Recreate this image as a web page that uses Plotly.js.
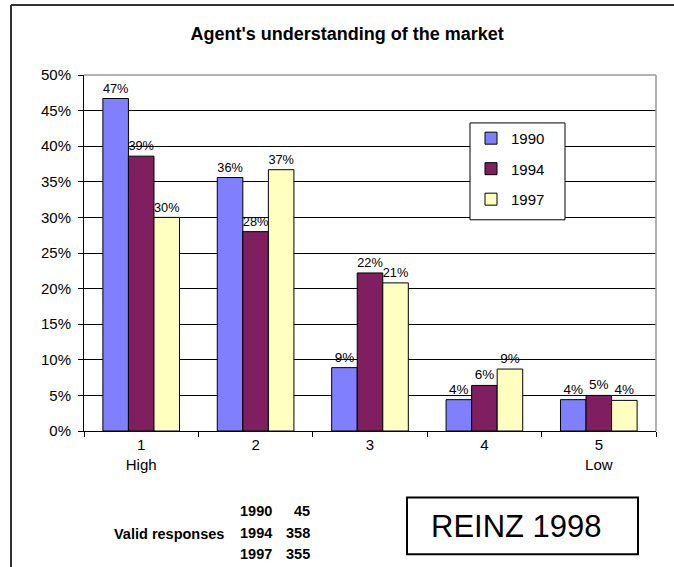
<!DOCTYPE html>
<html>
<head>
<meta charset="utf-8">
<script src="https://cdn.plot.ly/plotly-3.0.1.min.js"></script>
<style>html,body{margin:0;padding:0;background:#fff;}#chart{width:674px;height:567px;}</style>
</head>
<body>
<div id="chart"></div>
<script>
const categories = ['1', '2', '3', '4', '5'];
const tickLabels = ['1<br>High', '2', '3', '4', '5<br>Low'];
const seriesNames = ['1990', '1994', '1997'];
const values1990 = [46.7, 35.6, 8.9, 4.4, 4.4];
const values1994 = [38.6, 28.0, 22.2, 6.4, 5.0];
const values1997 = [30.0, 36.7, 20.8, 8.7, 4.3];
const validYears = ['1990', '1994', '1997'];
const validCounts = [45, 358, 355];

const colors = ['#8080FF', '#7F1F5F', '#FFFFC0'];
const FONT = 'Arial, "Liberation Sans", sans-serif';

const allValues = [values1990, values1994, values1997];
const traces = allValues.map((vals, i) => ({
  type: 'bar',
  name: seriesNames[i],
  x: categories,
  y: vals,
  marker: {color: colors[i], line: {color: '#000', width: 1}},
  texttemplate: '%{y:.0f}%',
  textposition: 'outside',
  textfont: {family: FONT, size: 13.5, color: '#000'},
  cliponaxis: false,
  legendgroup: 'g' + i,
  hoverinfo: 'skip'
}));

// pixel helpers for paper coords (plot area: x 84..656, y 75..431.5)
const L = 84, R = 656, T = 75, B = 431.5;
const px = v => (v - L) / (R - L);
const py = v => (B - v) / (B - T);

const annotations = [
  {text: '<b>Valid responses</b>', xref: 'paper', yref: 'paper', x: px(226), y: py(535),
   xanchor: 'right', yanchor: 'middle', showarrow: false, font: {family: FONT, size: 14.5, color: '#000'}},
  {text: 'REINZ 1998', xref: 'paper', yref: 'paper', x: px(516.5), y: py(527),
   xanchor: 'center', yanchor: 'middle', showarrow: false, font: {family: FONT, size: 31, color: '#000'}}
];
const rowY = [512, 534, 555];
validYears.forEach((yr, i) => {
  annotations.push({text: '<b>' + yr + '</b>', xref: 'paper', yref: 'paper', x: px(274), y: py(rowY[i]),
    xanchor: 'right', yanchor: 'middle', showarrow: false, font: {family: FONT, size: 14.5, color: '#000'}});
  annotations.push({text: '<b>' + validCounts[i] + '</b>', xref: 'paper', yref: 'paper', x: px(312), y: py(rowY[i]),
    xanchor: 'right', yanchor: 'middle', showarrow: false, font: {family: FONT, size: 14.5, color: '#000'}});
});

const shapes = [
  // outer frame (top and left visible)
  {type: 'line', xref: 'paper', yref: 'paper', x0: px(11), x1: px(690), y0: py(5), y1: py(5), line: {color: '#333', width: 2}},
  {type: 'line', xref: 'paper', yref: 'paper', x0: px(11), x1: px(11), y0: py(5), y1: py(590), line: {color: '#333', width: 2}},
  // plot area border top/right gray
  {type: 'line', xref: 'paper', yref: 'paper', x0: 0, x1: 1, y0: 1, y1: 1, line: {color: '#999', width: 1.5}, layer: 'above'},
  {type: 'line', xref: 'paper', yref: 'paper', x0: 1, x1: 1, y0: 0, y1: 1, line: {color: '#999', width: 1.5}, layer: 'above'},
  // legend box
  {type: 'rect', xref: 'paper', yref: 'paper', x0: px(470), x1: px(565), y0: py(220), y1: py(123),
   fillcolor: '#fff', line: {color: '#000', width: 1}, layer: 'above'},
  // REINZ box
  {type: 'rect', xref: 'paper', yref: 'paper', x0: px(407), x1: px(638), y0: py(555), y1: py(498),
   fillcolor: 'rgba(0,0,0,0)', line: {color: '#000', width: 2}}
];

const layout = {
  width: 674, height: 567,
  margin: {l: L, r: 674 - R, t: T, b: 567 - B},
  paper_bgcolor: '#fff', plot_bgcolor: '#fff',
  font: {family: FONT, size: 15, color: '#000'},
  title: {text: "<b>Agent's understanding of the market</b>", font: {family: FONT, size: 18, color: '#000'},
          x: 0.515, xanchor: 'center', y: 1 - 34 / 567, yanchor: 'middle'},
  barmode: 'group', bargap: 0.33, bargroupgap: 0,
  showlegend: true,
  legend: {x: px(471), y: py(122), xanchor: 'left', yanchor: 'top', bgcolor: 'rgba(0,0,0,0)',
           borderwidth: 0, font: {family: FONT, size: 15, color: '#000'}, tracegroupgap: 8},
  xaxis: {type: 'category', tickmode: 'array', tickvals: categories, ticktext: tickLabels,
          tickson: 'boundaries', ticks: 'outside', ticklen: 5, tickcolor: '#000',
          showline: true, linecolor: '#000', linewidth: 1, showgrid: false,
          tickfont: {family: FONT, size: 15, color: '#000'}, fixedrange: true},
  yaxis: {range: [0, 50], dtick: 5, tick0: 0, ticksuffix: '%', ticks: 'outside', ticklen: 5, tickcolor: '#000',
          showline: true, linecolor: '#000', linewidth: 1, showgrid: true, gridcolor: '#000', gridwidth: 1,
          zeroline: false, ticklabelstandoff: 4,
          tickfont: {family: FONT, size: 15, color: '#000'}, fixedrange: true},
  shapes: shapes,
  annotations: annotations
};

Plotly.newPlot('chart', traces, layout, {displayModeBar: false, staticPlot: true});
</script>
</body>
</html>
